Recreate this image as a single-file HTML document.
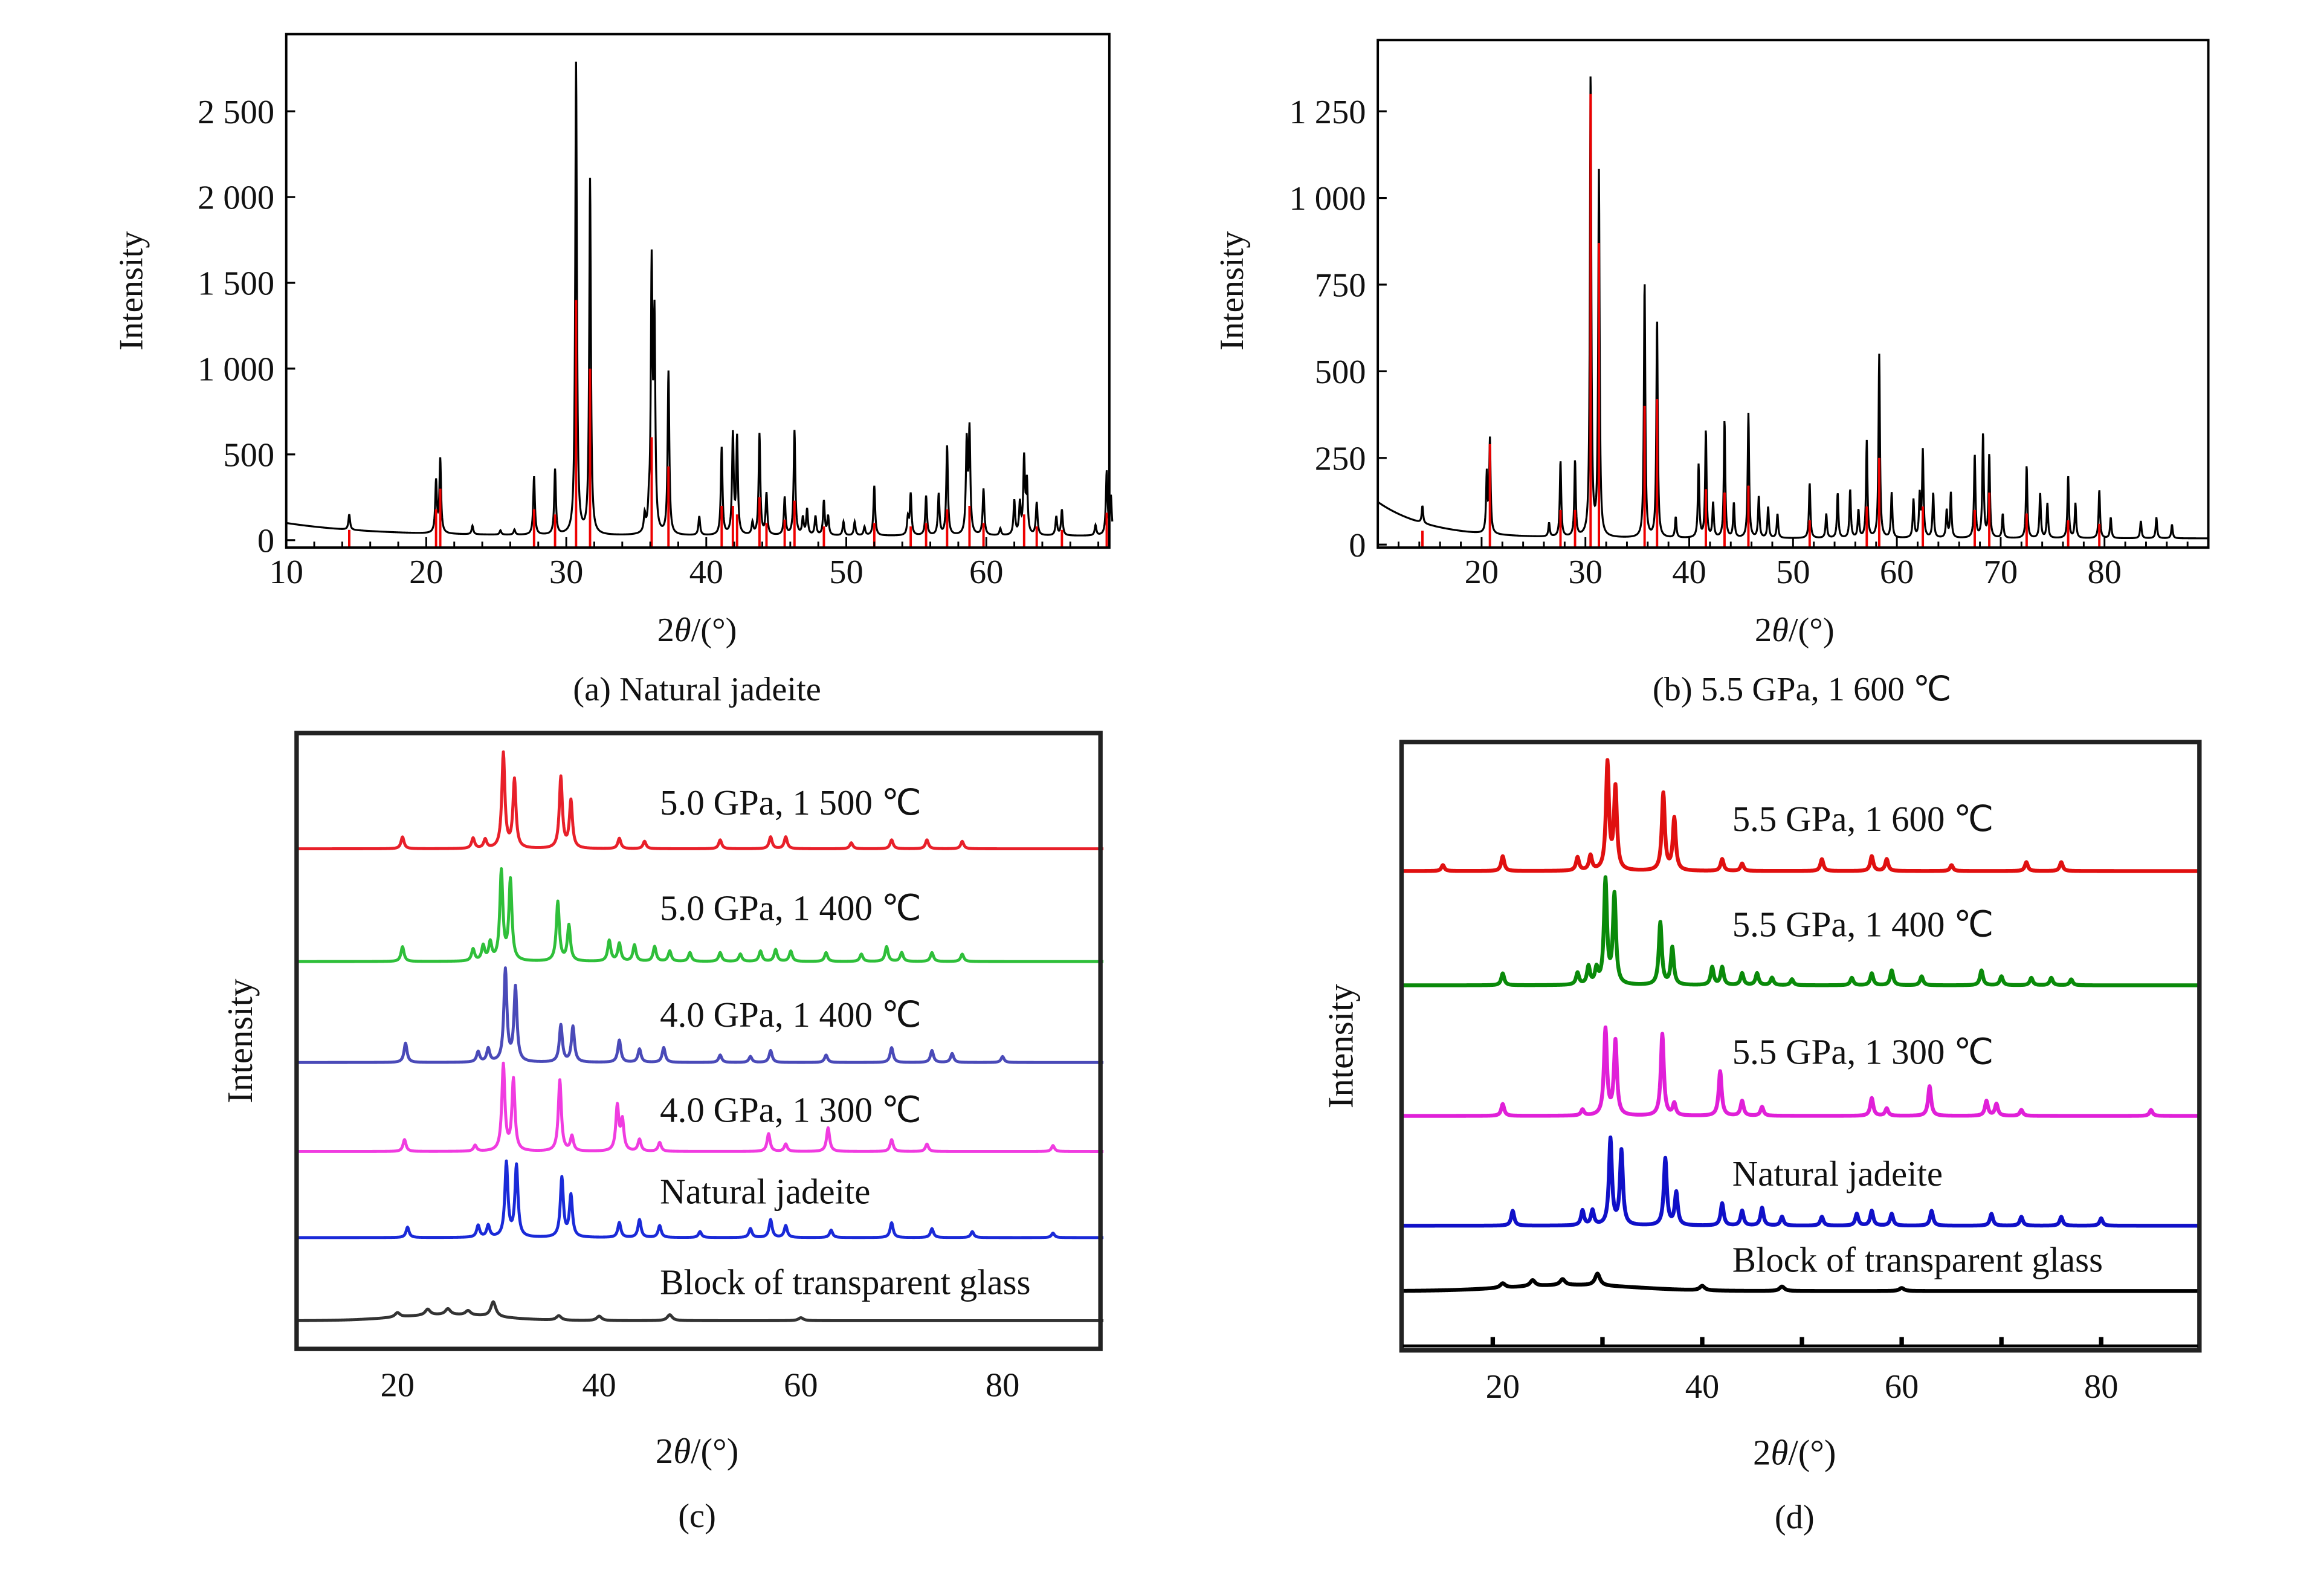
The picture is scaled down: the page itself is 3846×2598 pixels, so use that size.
<!DOCTYPE html>
<html><head><meta charset="utf-8"><style>
html,body{margin:0;padding:0;background:#fff}
svg{display:block}
text{font-family:"Liberation Serif",serif;fill:#111}
</style></head><body>
<svg id="fig" width="3846" height="2598" viewBox="0 0 1567 1058" preserveAspectRatio="none" xmlns="http://www.w3.org/2000/svg"></svg>
<script>
// ---------- DATA ----------
const aPeaks=[[14.5,90],[20.7,300],[21.0,430],[23.3,50],[25.3,25],[26.3,30],[27.7,340],[29.2,380],[30.7,2750],[31.7,2070],[35.6,100],[35.9,100],[36.1,1520],[36.3,1200],[37.3,950],[39.5,110],[41.1,510],[41.9,580],[42.2,560],[43.3,70],[43.8,590],[44.3,240],[45.6,220],[46.3,610],[46.9,100],[47.2,150],[47.8,110],[48.4,200],[48.7,110],[49.8,80],[50.6,80],[51.3,50],[52.0,290],[54.4,100],[54.6,240],[55.7,230],[56.6,240],[57.2,520],[58.6,530],[58.8,600],[59.8,270],[61.0,40],[62.0,200],[62.4,180],[62.7,440],[62.9,300],[63.6,190],[65.0,110],[65.4,150],[67.8,60],[68.6,370],[68.9,220]];
const aSticks=[[14.5,60],[20.7,180],[21.0,300],[27.7,180],[29.2,150],[30.7,1400],[31.7,1000],[36.1,600],[37.3,430],[41.1,200],[41.9,200],[42.2,150],[43.8,250],[44.3,100],[45.6,120],[46.3,230],[48.4,80],[52.0,100],[54.6,80],[55.7,100],[57.2,180],[58.8,200],[59.8,100],[62.7,150],[63.6,80],[65.4,60],[68.6,160]];
const bPeaks=[[14.3,50],[20.5,170],[20.8,270],[26.5,40],[27.6,220],[29.0,220],[30.5,1340],[31.3,1050],[35.7,740],[36.9,630],[38.7,60],[40.9,210],[41.6,310],[42.3,100],[43.4,340],[44.3,100],[45.7,360],[46.7,120],[47.6,90],[48.5,70],[51.6,160],[53.2,70],[54.3,130],[55.5,140],[56.3,80],[57.1,280],[58.3,530],[59.5,130],[61.6,110],[62.2,120],[62.5,250],[63.5,130],[64.8,80],[65.2,130],[67.5,240],[68.3,300],[68.9,240],[70.2,70],[72.5,210],[73.8,130],[74.5,100],[76.5,180],[77.2,100],[79.5,140],[80.6,60],[83.5,50],[85.0,60],[86.5,40]];
const bSticks=[[14.3,40],[20.8,290],[27.6,100],[29.0,100],[30.5,1300],[31.3,870],[35.7,400],[36.9,420],[41.6,160],[43.4,150],[45.7,170],[51.6,70],[57.1,110],[58.3,250],[62.5,110],[67.5,100],[68.9,150],[72.5,90],[76.5,70],[79.5,60]];
const cRed=[[20.5,8],[27.5,7],[28.7,6],[30.5,64],[31.6,46],[36.2,48],[37.2,32],[42,7],[44.5,5],[52,6],[57,8],[58.5,8],[65,4],[69,6],[72.5,6],[76,5]];
const cGreen=[[20.5,10],[27.5,8],[28.5,10],[29.2,12],[30.3,60],[31.2,54],[35.9,40],[37,24],[41,14],[42,12],[43.5,11],[45.5,10],[47,7],[49,6],[52,6],[54,5],[56,7],[57.5,8],[59,7],[62.5,6],[66,5],[68.5,10],[70,6],[73,6],[76,5]];
const cPurple=[[20.8,13],[28,7],[29,9],[30.7,62],[31.7,50],[36.2,25],[37.4,24],[42,15],[44,9],[46.4,10],[52,5],[55,4],[57,8],[62.5,5],[69,10],[73,8],[75,6],[80,4]];
const cMagenta=[[20.7,8],[27.7,4],[30.5,58],[31.5,48],[36.1,48],[37.3,10],[41.8,30],[42.3,20],[44,8],[46,6],[56.8,12],[58.5,5],[62.7,16],[69,8],[72.5,5],[85,4]];
const cBlue=[[21,7],[28,8],[29,8],[30.8,50],[31.8,48],[36.3,40],[37.2,28],[42,10],[44,12],[46,8],[50,4],[55,6],[57,12],[58.5,8],[63,5],[69,10],[73,6],[77,4],[85,3]];
const cBlack=[[20,3],[23,4],[25,4],[27,3],[29.5,10],[36,3],[40,3],[47,4],[60,2]];
const dRed=[[14,4],[20,10],[27.5,9],[28.8,10],[30.5,72],[31.3,55],[36.1,52],[37.2,35],[42,8],[44,5],[52,8],[57,10],[58.5,8],[65,4],[72.5,6],[76,6]];
const dGreen=[[20,8],[27.5,8],[28.6,12],[29.4,10],[30.3,70],[31.2,60],[35.8,42],[37,25],[41,12],[42,12],[44,8],[45.5,8],[47,5],[49,4],[55,5],[57,8],[59,10],[62,6],[68,10],[70,6],[73,5],[75,5],[77,4]];
const dMagenta=[[20,8],[28,4],[30.3,58],[31.3,50],[36,55],[37.2,8],[41.8,30],[44,10],[46,6],[57,12],[58.5,5],[62.8,20],[68.5,10],[69.5,8],[72,4],[85,4]];
const dBlue=[[21,10],[28,10],[29,10],[30.8,58],[31.9,50],[36.3,45],[37.4,22],[42,15],[44,10],[46,12],[48,6],[52,6],[55.5,8],[57,10],[59,8],[63,10],[69,8],[72,6],[76,6],[80,5]];
const dBlack=[[20,3],[23,4],[26,4],[29.5,8],[40,3],[48,3],[60,2]];
const dBottom=[19,30,40,50,60,70,80];
const aYTicks=[0,500,1000,1500,2000,2500];
const aYLabels=["0","500","1 000","1 500","2 000","2 500"];
const aXTicks=[10,20,30,40,50,60];
const bYTicks=[0,250,500,750,1000,1250];
const bYLabels=["0","250","500","750","1 000","1 250"];
const bXTicks=[20,30,40,50,60,70,80];
const cXTicks=[20,40,60,80];

// ---------- DRAWING ----------
const NS="http://www.w3.org/2000/svg";
const svg=document.getElementById('fig');
function el(tag,attrs,parent){const e=document.createElementNS(NS,tag);for(const k in attrs)e.setAttribute(k,attrs[k]);(parent||svg).appendChild(e);return e;}
function txt(s,x,y,size,anchor,parent,rot){const t=el('text',{x:x,y:y,'font-size':size,'text-anchor':anchor||'middle'},parent);if(rot)t.setAttribute('transform','rotate(-90 '+x+' '+y+')');t.textContent=s;return t;}
function lin(d0,d1,r0,r1){return v=>r0+(v-d0)*(r1-r0)/(d1-d0);}
function profile(peaks,w,x0,x1,step,base){const pts=[];for(let x=x0;x<=x1+1e-9;x+=step){let y=base?base(x):0;for(const p of peaks){const d=(x-p[0])/w;y+=p[1]/(1+d*d);}pts.push([x,y]);}return pts;}
function pathFrom(pts,X,Y){return pts.map((p,i)=>(i?'L':'M')+X(p[0]).toFixed(2)+' '+Y(p[1]).toFixed(2)).join('');}

(function(){
 const g=el('g',{});
 const L=193,R=748,T=23,B=369;
 const X=lin(10,69,193,750),Y=lin(0,2500,364,75);
 const base=x=>25+75*Math.exp(-(x-10)/6);
 const line=el('path',{d:pathFrom(profile(aPeaks,0.07,10,69,0.02,base),X,Y),fill:'none',stroke:'#000','stroke-width':1.3},g);
 
 aSticks.forEach(s=>{const l=el('line',{x1:X(s[0]),x2:X(s[0]),y1:B,y2:Y(s[1]),stroke:'#e00','stroke-width':1.6},g);});
 const f=el('rect',{x:L,y:T,width:R-L,height:B-T,fill:'none',stroke:'#000','stroke-width':1.6},g);
 aYTicks.forEach((v,i)=>{el('line',{x1:L,x2:L+6,y1:Y(v),y2:Y(v),stroke:'#000','stroke-width':1.3},g);txt(aYLabels[i],L-8,Y(v)+8,23,'end',g);});
 for(let v=12;v<=68;v+=2)el('line',{x1:X(v),x2:X(v),y1:B,y2:B-(v%10?4:7),stroke:'#000','stroke-width':1.2},g);
 aXTicks.forEach(v=>txt(String(v),X(v),B+24,23,'middle',g));
 txt('Intensity',96,196,23,'middle',g,true);
 const xt=el('text',{x:470,y:432,'font-size':23,'text-anchor':'middle'},g);xt.innerHTML='2<tspan font-style="italic">θ</tspan>/(°)';
 txt('(a) Natural jadeite',470,472,23,'middle',g);
})();

(function(){
 const g=el('g',{});
 const L=929,R=1489,T=27,B=369;
 const X=lin(10,90,929,1489),Y=lin(0,1250,367,75);
 const base=x=>18+105*Math.exp(-(x-10)/5);
 const line=el('path',{d:pathFrom(profile(bPeaks,0.08,10,90,0.03,base),X,Y),fill:'none',stroke:'#000','stroke-width':1.3},g);
 
 bSticks.forEach(s=>{const l=el('line',{x1:X(s[0]),x2:X(s[0]),y1:B,y2:Y(s[1]),stroke:'#e00','stroke-width':1.6},g);});
 const f=el('rect',{x:L,y:T,width:R-L,height:B-T,fill:'none',stroke:'#000','stroke-width':1.6},g);
 bYTicks.forEach((v,i)=>{el('line',{x1:L,x2:L+6,y1:Y(v),y2:Y(v),stroke:'#000','stroke-width':1.3},g);txt(bYLabels[i],L-8,Y(v)+8,23,'end',g);});
 for(let v=12;v<=88;v+=2)el('line',{x1:X(v),x2:X(v),y1:B,y2:B-(v%10?4:7),stroke:'#000','stroke-width':1.2},g);
 bXTicks.forEach(v=>txt(String(v),X(v),B+24,23,'middle',g));
 txt('Intensity',838,196,23,'middle',g,true);
 const xt=el('text',{x:1210,y:432,'font-size':23,'text-anchor':'middle'},g);xt.innerHTML='2<tspan font-style="italic">θ</tspan>/(°)';
 txt('(b) 5.5 GPa, 1 600 ℃',1215,472,23,'middle',g);
})();

function stacked(name,L,R,T,B,X,series,labels,lx,caption,capX,ytitleX,sw){
 const g=el('g',{});
 series.forEach(s=>{
  const pts=profile(s.peaks,s.w,10,90,0.05,s.base||null);
  const p=el('path',{d:pathFrom(pts,X,v=>s.y0-v),fill:'none',stroke:s.color,'stroke-width':sw,'stroke-linejoin':'round'},g);
  
 });
 labels.forEach(l=>{const t=txt(l[0],lx,l[1],24,'start',g);});
 const f=el('rect',{x:L,y:T,width:R-L,height:B-T,fill:'none',stroke:'#222','stroke-width':3},g);
 cXTicks.forEach(v=>txt(String(v),X(v),B+32,23,'middle',g));
 txt('Intensity',ytitleX,(T+B)/2,24,'middle',g,true);
 const xt=el('text',{x:capX,y:B+77,'font-size':24,'text-anchor':'middle'},g);xt.innerHTML='2<tspan font-style="italic">θ</tspan>/(°)';
 txt(caption,capX,B+120,23,'middle',g);
 return g;
}
(function(){
 const X=lin(10,90,200,744);
 const hump=x=>4*Math.exp(-Math.pow((x-25)/7,2));
 stacked('panel-c-stacked-patterns',200,742,494,909,X,[
  {id:'5-0gpa-1500c',peaks:cRed,w:0.18,y0:572,color:'#e8202a'},
  {id:'5-0gpa-1400c',peaks:cGreen,w:0.18,y0:648,color:'#2fbf3a'},
  {id:'4-0gpa-1400c',peaks:cPurple,w:0.18,y0:716,color:'#4a4ab8'},
  {id:'4-0gpa-1300c',peaks:cMagenta,w:0.18,y0:776,color:'#f03ce0'},
  {id:'natural-jadeite',peaks:cBlue,w:0.18,y0:834,color:'#1a2ad8'},
  {id:'transparent-glass',peaks:cBlack,w:0.3,y0:890,color:'#333',base:hump}
 ],[['5.0 GPa, 1 500 ℃',549],['5.0 GPa, 1 400 ℃',620],['4.0 GPa, 1 400 ℃',692],['4.0 GPa, 1 300 ℃',756],['Natural jadeite',811],['Block of transparent glass',872]],445,'(c)',470,170,2);
})();
(function(){
 const X=lin(10,90,946,1484);
 const hump=x=>4*Math.exp(-Math.pow((x-27)/9,2));
 const g=stacked('panel-d-stacked-patterns',945,1483,500,910,X,[
  {id:'5-5gpa-1600c',peaks:dRed,w:0.18,y0:587,color:'#e01010'},
  {id:'5-5gpa-1400c',peaks:dGreen,w:0.18,y0:664,color:'#0a8a0a'},
  {id:'5-5gpa-1300c',peaks:dMagenta,w:0.18,y0:752,color:'#e020d8'},
  {id:'natural-jadeite',peaks:dBlue,w:0.18,y0:826,color:'#1010c8'},
  {id:'transparent-glass',peaks:dBlack,w:0.3,y0:870,color:'#000',base:hump}
 ],[['5.5 GPa, 1 600 ℃',560],['5.5 GPa, 1 400 ℃',631],['5.5 GPa, 1 300 ℃',717],['Natural jadeite',799],['Block of transparent glass',857]],1168,'(d)',1210,912,2.6);
 const bl=el('line',{x1:946,x2:1482,y1:907,y2:907,stroke:'#000','stroke-width':2},g);
 
 dBottom.forEach(v=>{const t=el('line',{x1:X(v),x2:X(v),y1:907,y2:901,stroke:'#000','stroke-width':3},g);});
})();
</script>
</body></html>
